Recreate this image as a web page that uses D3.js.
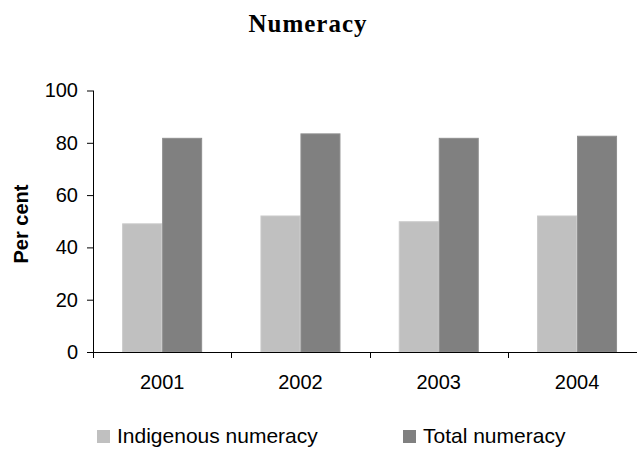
<!DOCTYPE html>
<html>
<head>
<meta charset="utf-8">
<script src="https://cdn.jsdelivr.net/npm/d3@7"></script>
<style>
  html, body { margin: 0; padding: 0; background: #fff; }
  svg { display: block; }
</style>
</head>
<body>
<svg id="chart" width="637" height="450"></svg>
<script>
// Numeracy results by year
const years = ["2001", "2002", "2003", "2004"];
const seriesNames = ["Indigenous numeracy", "Total numeracy"];
const indigenous = [49.2, 52.2, 50.0, 52.2];
const total = [81.9, 83.6, 81.9, 82.7];
const yTicks = [0, 20, 40, 60, 80, 100];

const fills = ["#c0c0c0", "#808080"];
const edges = ["#cacaca", "#8e8e8e"];
const sans = "Liberation Sans, Arial, sans-serif";

const svg = d3.select("#chart");
const margin = { left: 93, top: 90.5, bottom: 352 };
const bandW = 138.3;
const barW = 40;

const x = d3.scaleBand()
  .domain(years)
  .range([margin.left, margin.left + bandW * years.length])
  .paddingInner(0).paddingOuter(0);

// two bars side by side, centred in each year's band
const inner = d3.scaleBand()
  .domain(seriesNames)
  .range([0, x.bandwidth()])
  .paddingInner(0)
  .paddingOuter((x.bandwidth() - 2 * barW) / 2 / barW);

const y = d3.scaleLinear().domain([0, 100]).range([margin.bottom, margin.top]);

const rows = years.map((yr, i) => ({ year: yr, values: [indigenous[i], total[i]] }));

// bars
const groups = svg.append("g").selectAll("g")
  .data(rows).join("g")
  .attr("transform", d => `translate(${x(d.year)},0)`);

groups.selectAll("rect")
  .data(d => d.values.map((v, k) => ({ name: seriesNames[k], v, k })))
  .join("rect")
  .attr("x", d => inner(d.name) + 0.5)
  .attr("y", d => y(d.v) + 0.5)
  .attr("width", inner.bandwidth() - 1)
  .attr("height", d => y(0) - y(d.v) - 0.5)
  .attr("fill", d => fills[d.k])
  .attr("stroke", d => edges[d.k])
  .attr("stroke-width", 1);

// y axis
const yAxis = d3.axisLeft(y).tickValues(yTicks).tickSize(6).tickPadding(9).tickFormat(d3.format("d"));
const gy = svg.append("g").attr("transform", `translate(${margin.left},0)`).call(yAxis);
gy.select(".domain").attr("stroke", "#000").attr("d", `M0.5,${y(100)}V${y(0)}`);
gy.selectAll(".tick line").attr("stroke", "#000");
gy.selectAll(".tick text")
  .attr("font-family", sans)
  .attr("font-size", 20).attr("fill", "#000");

// x axis
const xAxis = d3.axisBottom(x).tickSize(0).tickPadding(23);
const gx = svg.append("g").attr("transform", `translate(0,${margin.bottom})`).call(xAxis);
gx.select(".domain").attr("stroke", "#000").attr("d", `M${margin.left - 6},0.5H637`);
gx.selectAll(".tick text")
  .attr("font-family", sans)
  .attr("font-size", 20).attr("fill", "#000");

// category separators
svg.append("g").selectAll("line")
  .data(years)
  .join("line")
  .attr("x1", d => Math.round(x(d)) + 0.5)
  .attr("x2", d => Math.round(x(d)) + 0.5)
  .attr("y1", margin.bottom)
  .attr("y2", margin.bottom + 6)
  .attr("stroke", "#000");

// title
svg.append("text")
  .attr("x", 308).attr("y", 32)
  .attr("text-anchor", "middle")
  .attr("font-family", "Liberation Serif, Times New Roman, serif")
  .attr("font-weight", "bold")
  .attr("font-size", 25)
  .attr("letter-spacing", 1)
  .text("Numeracy");

// y axis title
svg.append("text")
  .attr("transform", "translate(28,224) rotate(-90)")
  .attr("text-anchor", "middle")
  .attr("font-family", sans)
  .attr("font-weight", "bold")
  .attr("font-size", 20)
  .text("Per cent");

// legend
const legendX = [97, 403];
const legend = svg.append("g").selectAll("g")
  .data(seriesNames).join("g")
  .attr("transform", (d, i) => `translate(${legendX[i]},430)`);
legend.append("rect")
  .attr("width", 13).attr("height", 13)
  .attr("fill", (d, i) => fills[i]);
legend.append("text")
  .attr("x", 20).attr("y", 13)
  .attr("font-family", sans)
  .attr("font-size", 21)
  .text(d => d);
</script>
</body>
</html>
